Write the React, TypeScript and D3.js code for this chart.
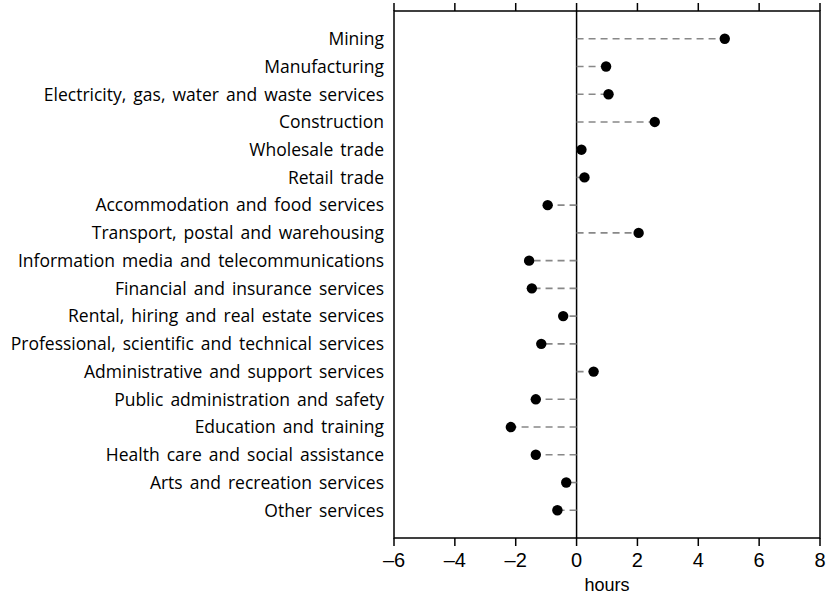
import React from "react";
import * as d3 from "d3";

const categories = [
  "Mining",
  "Manufacturing",
  "Electricity, gas, water and waste services",
  "Construction",
  "Wholesale trade",
  "Retail trade",
  "Accommodation and food services",
  "Transport, postal and warehousing",
  "Information media and telecommunications",
  "Financial and insurance services",
  "Rental, hiring and real estate services",
  "Professional, scientific and technical services",
  "Administrative and support services",
  "Public administration and safety",
  "Education and training",
  "Health care and social assistance",
  "Arts and recreation services",
  "Other services",
];

const values = [
  4.87, 0.97, 1.05, 2.57, 0.16, 0.26, -0.95, 2.04, -1.56, -1.47, -0.44, -1.16,
  0.56, -1.34, -2.16, -1.34, -0.34, -0.63,
];

const xTicks = [-6, -4, -2, 0, 2, 4, 6, 8];
const xLabel = "hours";

const W = 827;
const H = 597;
const left = 394;
const right = 820;
const top = 11;
const bottom = 538;
const LABEL_FONT = "'Open Sans', 'Liberation Sans', sans-serif";
const TICK_FONT = "'Liberation Sans', Arial, sans-serif";

export default function App() {
  const x = d3.scaleLinear().domain([-6, 8]).range([left, right]);
  const y = d3.scalePoint<string>().domain(categories).range([top, bottom]).padding(1);
  const fmt = (v: number) => (v < 0 ? "\u2013" + Math.abs(v) : String(v));
  return (
    <svg
      width={W}
      height={H}
      style={{ position: "absolute", left: 0, top: 0 }}
    >
      <rect x={0} y={0} width={W} height={H} fill="white" />
      <rect
        x={left}
        y={top}
        width={right - left}
        height={bottom - top}
        fill="none"
        stroke="black"
        strokeWidth={1.5}
      />
      {xTicks.map((t) => (
        <g key={t}>
          <line x1={x(t)} x2={x(t)} y1={top} y2={top - 8} stroke="black" strokeWidth={1.5} />
          <line x1={x(t)} x2={x(t)} y1={bottom} y2={bottom + 8} stroke="black" strokeWidth={1.5} />
          <text
            x={x(t)}
            y={567}
            textAnchor="middle"
            fontSize={20}
            fontFamily={TICK_FONT}
            fill="black"
          >
            {fmt(t)}
          </text>
        </g>
      ))}
      <line x1={x(0)} x2={x(0)} y1={top} y2={bottom} stroke="black" strokeWidth={1.5} />
      {categories.map((c, i) => (
        <line
          key={"l" + c}
          x1={x(0)}
          x2={x(values[i])}
          y1={y(c)!}
          y2={y(c)!}
          stroke="#888"
          strokeWidth={1.6}
          strokeDasharray="7,5"
        />
      ))}
      {categories.map((c, i) => (
        <circle key={"c" + c} cx={x(values[i])} cy={y(c)!} r={5.2} fill="black" />
      ))}
      {categories.map((c) => (
        <text
          key={"t" + c}
          x={384}
          y={y(c)!}
          dy="0.36em"
          textAnchor="end"
          fontSize={17.5}
          fontFamily={LABEL_FONT}
          wordSpacing={2.5}
          fill="black"
        >
          {c}
        </text>
      ))}
      <text
        x={(left + right) / 2}
        y={591}
        textAnchor="middle"
        fontSize={18}
        fontFamily={TICK_FONT}
        fill="black"
      >
        {xLabel}
      </text>
    </svg>
  );
}
